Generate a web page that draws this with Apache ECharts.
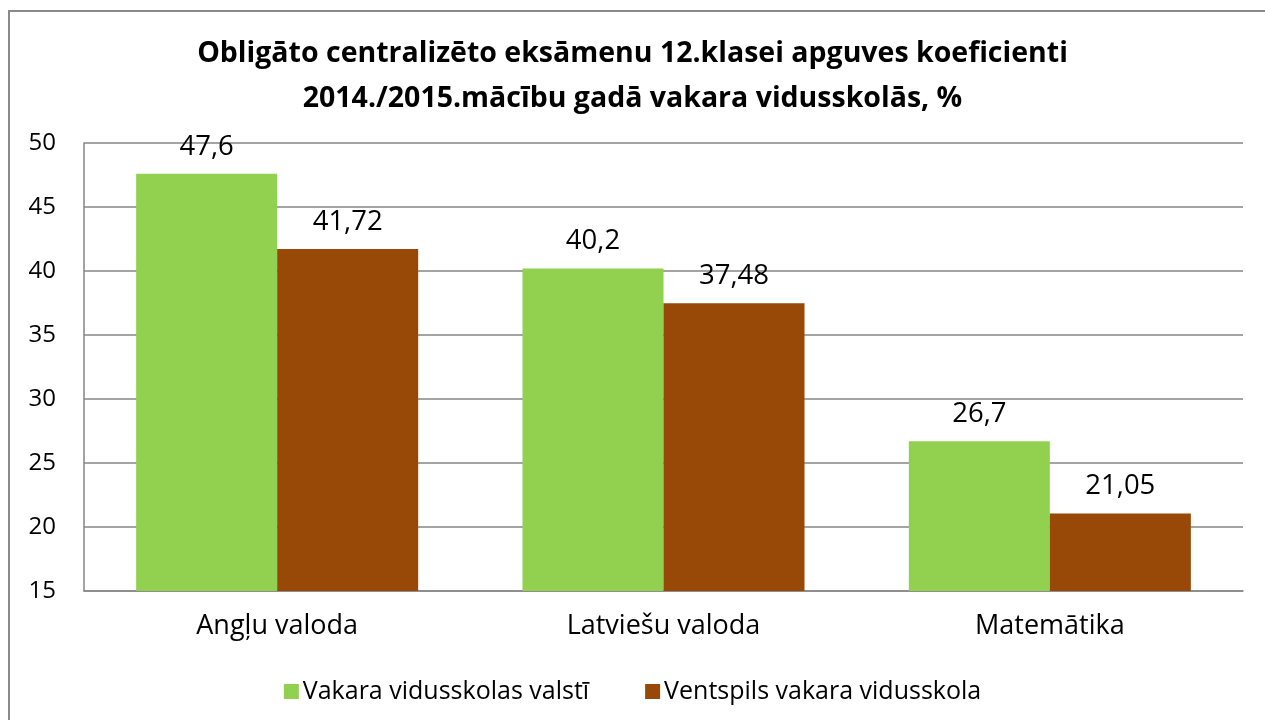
<!DOCTYPE html>
<html>
<head>
<meta charset="utf-8" />
<title></title>
<script src="https://cdn.jsdelivr.net/npm/echarts@6/dist/echarts.min.js"></script>
<style>html,body{margin:0;padding:0;background:#fff;}</style>
</head>
<body>
<div id="chart" style="width:1265px;height:720px;"></div>
<script>
var categories = ['Angļu valoda', 'Latviešu valoda', 'Matemātika'];
var seriesNames = ['Vakara vidusskolas valstī', 'Ventspils vakara vidusskola'];
var valsts = [47.6, 40.2, 26.7];
var ventspils = [41.72, 37.48, 21.05];
var font = 'Open Sans';

// decimal comma like in the original
function comma(p) { return String(p.value).replace('.', ','); }

var chart = echarts.init(document.getElementById('chart'));
chart.setOption({
  backgroundColor: '#fff',
  animation: false,
  textStyle: { fontFamily: font },
  graphic: [{
    type: 'rect',
    shape: { x: 9, y: 11, width: 1300, height: 800 },
    style: { fill: 'none', stroke: '#8a8a8a', lineWidth: 2 }
  }],
  title: {
    text: 'Obligāto centralizēto eksāmenu 12.klasei apguves koeficienti\n2014./2015.mācību gadā vakara vidusskolās, %',
    left: 'center',
    top: 26,
    textStyle: { fontFamily: font, fontSize: 28.5, fontWeight: 'bold', color: '#000', lineHeight: 45 }
  },
  legend: {
    top: 674,
    left: 'center',
    itemWidth: 15,
    itemHeight: 15,
    itemGap: 56,
    itemStyle: { borderWidth: 0 },
    icon: 'rect',
    textStyle: { fontFamily: font, fontSize: 25, color: '#000', padding: [0, 0, 0, -1] },
    data: seriesNames
  },
  grid: { left: 84, right: 22, top: 143, bottom: 129, containLabel: false },
  xAxis: {
    type: 'category',
    data: categories,
    axisLine: { lineStyle: { color: '#868686', width: 1.5 } },
    axisTick: { show: false },
    axisLabel: { fontFamily: font, fontSize: 27, color: '#000', margin: 22 }
  },
  yAxis: {
    type: 'value',
    min: 15,
    max: 50,
    interval: 5,
    axisLine: { show: true, lineStyle: { color: '#868686', width: 1.5 } },
    axisTick: { show: false },
    axisLabel: { fontFamily: font, fontSize: 24, color: '#000', margin: 28 },
    splitLine: { lineStyle: { color: '#868686', width: 1.5 } }
  },
  series: [{
    name: seriesNames[0],
    type: 'bar',
    data: valsts,
    barGap: '0%',
    barCategoryGap: '27%',
    itemStyle: { color: '#92D050' },
    label: { show: true, position: 'top', distance: 13, fontFamily: font, fontSize: 27.5, color: '#000', formatter: comma }
  }, {
    name: seriesNames[1],
    type: 'bar',
    data: ventspils,
    itemStyle: { color: '#984807' },
    label: { show: true, position: 'top', distance: 13, fontFamily: font, fontSize: 27.5, color: '#000', formatter: comma }
  }]
});
</script>
</body>
</html>
